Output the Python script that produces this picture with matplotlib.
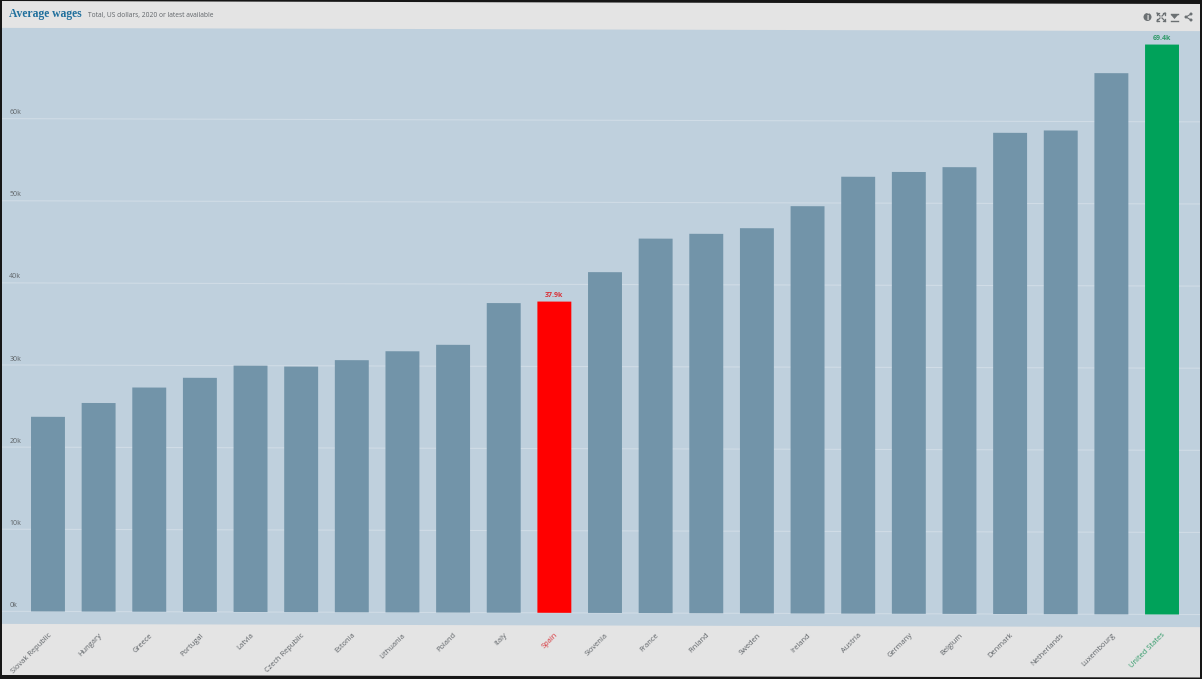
# plot.py - average wages bar chart, OECD style

import matplotlib
matplotlib.use("Agg")
import matplotlib.pyplot as plt
from matplotlib.patches import Circle, Polygon
from matplotlib.ticker import FuncFormatter
from matplotlib.transforms import Affine2D, ScaledTranslation

countries = ["Slovak Republic", "Hungary", "Greece", "Portugal", "Latvia",
             "Czech Republic", "Estonia", "Lithuania", "Poland", "Italy",
             "Spain", "Slovenia", "France", "Finland", "Sweden", "Ireland",
             "Austria", "Germany", "Belgium", "Denmark", "Netherlands",
             "Luxembourg", "United States"]
wages = [23.7, 25.4, 27.3, 28.5, 30.0, 29.9, 30.7, 31.8, 32.6, 37.7, 37.9,
         41.5, 45.6, 46.2, 46.9, 49.6, 53.2, 53.8, 54.4, 58.6, 58.9, 65.9, 69.4]
y_ticks = [0, 10, 20, 30, 40, 50, 60]
highlights = {"Spain": "#ff0000", "United States": "#00a25a"}
label_colors = {"Spain": "#d8333a", "United States": "#2f9a68"}

W, H = 1202, 679
BAR_COLOR = "#7294a9"
PANEL_COLOR = "#bfd0dd"
HEADER_COLOR = "#e4e4e4"
TEXT_COLOR = "#5f6468"
ICON = "#6b7073"

plt.rcParams["font.family"] = ["Open Sans", "DejaVu Sans"]

fig = plt.figure(figsize=(W / 100, H / 100), dpi=100, facecolor=HEADER_COLOR)

# the whole chart leans slightly downward to the right
slope = 0.0027
lean = Affine2D.from_values(1, -slope, 0, 1, 0, slope * W / 2)

# plot panel
ax = fig.add_axes([2 / W, 1 - 625.5 / H, 1198 / W, 596 / H])
ax.patch.set_facecolor(PANEL_COLOR)
ax.patch.set_transform(ax.transAxes + lean)
for spine in ax.spines.values():
    spine.set_visible(False)

colors = [highlights.get(c, BAR_COLOR) for c in countries]
positions = list(range(len(countries)))
bars = ax.bar(positions, wages, width=0.67, color=colors, zorder=3, clip_on=False)
for bar in bars:
    bar.set_transform(ax.transData + lean)

ax.set_xlim(-0.908, 22.75)
ax.set_ylim(-1.53, 71.05)

ax.set_yticks(y_ticks)
ax.yaxis.set_major_formatter(FuncFormatter(lambda v, _: f"{v:.0f}k"))
ax.tick_params(axis="y", length=0, labelsize=5, labelcolor=TEXT_COLOR)
ax.grid(axis="y", color="#d0dce6", lw=0.8, zorder=1)
ax.set_axisbelow(True)
for line in ax.get_ygridlines():
    line.set_transform(ax.get_yaxis_transform(which="grid") + lean)
    line.set_clip_on(False)
label_shift = ScaledTranslation(0, 4 / 100, fig.dpi_scale_trans)
for lab in ax.get_yticklabels():
    lab.set_horizontalalignment("left")
    lab.set_verticalalignment("bottom")
    lab.set_x(0.006)
    lab.set_transform(ax.get_yaxis_transform() + label_shift)

ax.set_xticks(positions)
ax.set_xticklabels(countries, rotation=45, ha="right", rotation_mode="anchor")
ax.tick_params(axis="x", length=0, pad=4.5, labelsize=5.4)
for lab, country in zip(ax.get_xticklabels(), countries):
    lab.set_color(label_colors.get(country, TEXT_COLOR))

# value labels only on the highlighted bars
for i, (country, value) in enumerate(zip(countries, wages)):
    if country in highlights:
        ax.annotate(f"{value:.1f}k", (i, value), xytext=(0, 2),
                    textcoords="offset points", ha="center", va="bottom",
                    fontsize=5, fontweight="bold", xycoords=ax.transData + lean,
                    color=label_colors[country], zorder=4)

# overlay in pixel coordinates for the frame and the header
ov = fig.add_axes([0, 0, 1, 1], zorder=5)
ov.set_xlim(0, W)
ov.set_ylim(H, 0)
ov.axis("off")

# dark frame edges
for pts in [[(0, 0), (W, 0), (W, 4), (0, 1)],
            [(0, 675), (W, 677.5), (W, H), (0, H)],
            [(0, 0), (2, 0), (2, H), (0, H)],
            [(1200, 0), (W, 0), (W, H), (1200, H)]]:
    ov.add_patch(Polygon(pts, color="#161616", lw=0))

ov.text(9, 14, "Average wages", family=["Liberation Serif"], fontsize=8.4,
        fontweight="bold", color="#1f6f9c", va="center")
ov.text(88, 15, "Total, US dollars, 2020 or latest available",
        fontsize=4.8, color=TEXT_COLOR, va="center")

# info icon
ov.add_patch(Circle((1147.5, 17), 4, color=ICON, lw=0))
ov.text(1147.5, 17, "i", fontsize=5.5, fontweight="bold", color=HEADER_COLOR,
        ha="center", va="center")

# fullscreen arrows
cx, cy = 1161, 17
for sx, sy in [(-1, -1), (1, -1), (-1, 1), (1, 1)]:
    ov.plot([cx + sx, cx + sx * 4], [cy + sy, cy + sy * 4], color=ICON, lw=0.9)
    ov.plot([cx + sx * 4, cx + sx * 4], [cy + sy * 2, cy + sy * 4], color=ICON, lw=0.9)
    ov.plot([cx + sx * 2, cx + sx * 4], [cy + sy * 4, cy + sy * 4], color=ICON, lw=0.9)

# download
ov.plot([1171, 1178], [14, 14], color=ICON, lw=1)
ov.plot([1171, 1178], [20.5, 20.5], color=ICON, lw=1)
ov.add_patch(Polygon([(1171, 15), (1178, 15), (1174.5, 19)], color=ICON, lw=0))

# share
ov.plot([1191, 1186, 1191], [14, 17, 20], color=ICON, lw=0.8)
for x, y in [(1191, 14), (1186, 17), (1191, 20)]:
    ov.add_patch(Circle((x, y), 1.5, color=ICON, lw=0))

fig.savefig("out.png", dpi=100, facecolor=fig.get_facecolor())
